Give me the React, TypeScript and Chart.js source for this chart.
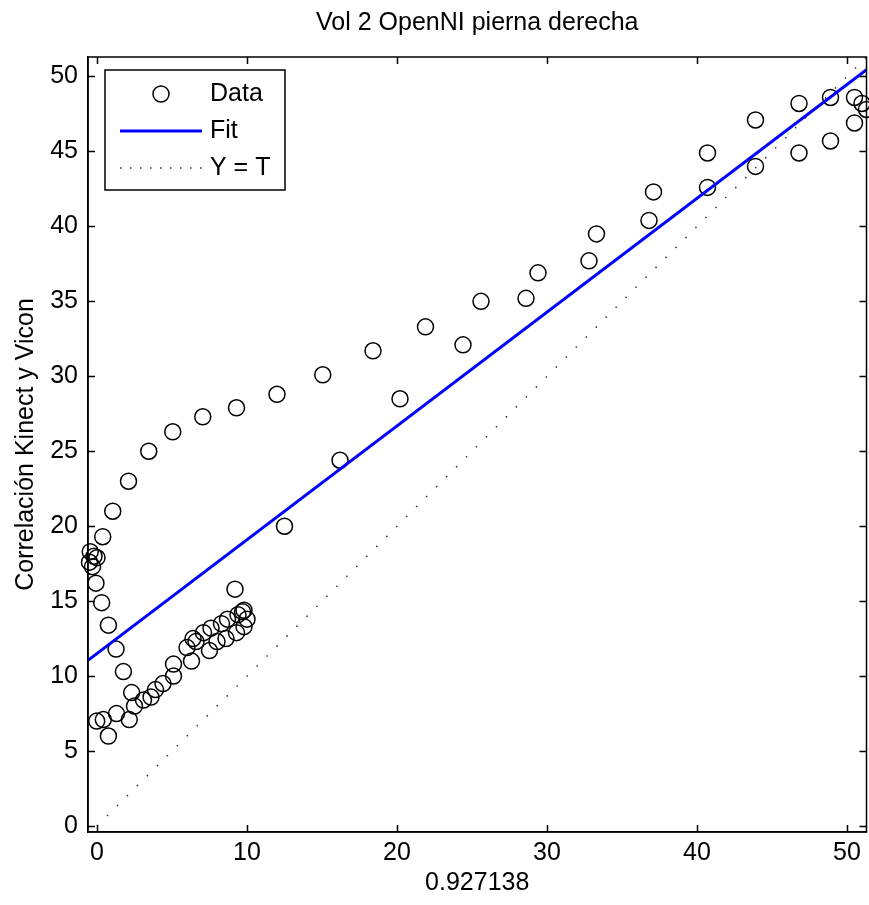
import React, { useEffect, useRef } from "react";
import { Chart, registerables } from "chart.js";

Chart.register(...registerables);

const TITLE = "Vol 2 OpenNI pierna derecha";
const X_LABEL = "0.927138";
const Y_LABEL = "Correlación Kinect y Vicon";
const X_TICKS = [0, 10, 20, 30, 40, 50];
const Y_TICKS = [0, 5, 10, 15, 20, 25, 30, 35, 40, 45, 50];
const X_MIN = -0.6;
const X_MAX = 51.3;
const Y_MIN = -0.4;
const Y_MAX = 51.3;

const SERIES_LABELS = ["Data", "Fit", "Y = T"];

const dataX = [
  -0.45, -0.2, -0.5, -0.3, 0.0,
  -0.07, 0.31, 0.76, 1.27, 1.76, 2.31,
  -0.02, 0.42, 0.76, 1.3, 2.15, 2.5, 3.1, 3.6, 3.9, 4.4, 5.1, 5.1, 6.0, 6.3, 6.4, 6.6,
  7.1, 7.5, 7.6, 8.0, 8.3, 8.6, 8.7, 9.2, 9.3, 9.4, 9.8, 9.8, 10.0, 9.7,
  0.38, 1.05, 2.1, 3.45, 5.05, 7.05, 9.3, 12.0, 15.05, 18.4, 21.9, 25.6, 29.4, 33.3,
  37.1, 40.7, 43.9, 46.8, 48.9, 50.5, 51.0,
  12.5, 16.2, 20.2, 24.4, 28.6, 32.8, 36.8, 40.7, 43.9, 46.8, 48.9, 50.5, 51.3,
];
const dataY = [
  18.3, 18.0, 17.6, 17.3, 17.9,
  16.2, 14.9, 13.4, 11.8, 10.3, 8.9,
  7.0, 7.1, 6.0, 7.5, 7.1, 8.0, 8.4, 8.6, 9.1, 9.5, 10.0, 10.8, 11.9, 11.0, 12.5, 12.3,
  12.9, 11.7, 13.2, 12.3, 13.5, 12.5, 13.8, 15.8, 12.9, 14.1, 13.3, 14.4, 13.8, 14.3,
  19.3, 21.0, 23.0, 25.0, 26.3, 27.3, 27.9, 28.8, 30.1, 31.7, 33.3, 35.0, 36.9, 39.5,
  42.3, 44.9, 47.1, 48.2, 48.6, 48.6, 48.2,
  20.0, 24.4, 28.5, 32.1, 35.2, 37.7, 40.4, 42.6, 44.0, 44.9, 45.7, 46.9, 47.8,
];

const fitX = [-0.6, 51.3];
const fitY = [11.05, 50.45];
const identX = [0, 51.3];
const identY = [0, 51.3];

const FONT = "'Liberation Sans', Arial, Helvetica, sans-serif";
const FS = 25;
const CW = 876;
const CH = 905;

const framePlugin = {
  id: "frame",
  afterDatasetsDraw(chart: any) {
    const { ctx, chartArea } = chart;
    const { left, right, top, bottom } = chartArea;
    const xs = chart.scales.x;
    const ys = chart.scales.y;
    const tl = 7;
    ctx.save();
    ctx.strokeStyle = "#000";
    ctx.lineWidth = 1.5;
    ctx.strokeRect(left, top, right - left, bottom - top);
    ctx.beginPath();
    for (const v of X_TICKS) {
      const px = Math.round(xs.getPixelForValue(v)) + 0.5;
      ctx.moveTo(px, bottom);
      ctx.lineTo(px, bottom - tl);
      ctx.moveTo(px, top);
      ctx.lineTo(px, top + tl);
    }
    for (const v of Y_TICKS) {
      const py = Math.round(ys.getPixelForValue(v)) + 0.5;
      ctx.moveTo(left, py);
      ctx.lineTo(left + tl, py);
      ctx.moveTo(right, py);
      ctx.lineTo(right - tl, py);
    }
    ctx.stroke();
    ctx.restore();
  },
  afterDraw(chart: any) {
    const { ctx, chartArea } = chart;
    ctx.save();
    ctx.fillStyle = "#000";
    ctx.font = `${FS}px ${FONT}`;
    ctx.textAlign = "center";
    ctx.textBaseline = "middle";
    ctx.fillText(TITLE, (chartArea.left + chartArea.right) / 2, 23);

    const bx = chartArea.left + 17;
    const by = chartArea.top + 13;
    const bw = 180;
    const bh = 120;
    ctx.fillStyle = "#fff";
    ctx.fillRect(bx, by, bw, bh);
    ctx.strokeStyle = "#000";
    ctx.lineWidth = 1.5;
    ctx.strokeRect(bx, by, bw, bh);

    const rows = [by + 24, by + 61, by + 98];
    const sx0 = bx + 15;
    const sx1 = bx + 97;
    const tx = bx + 105;

    ctx.beginPath();
    ctx.arc((sx0 + sx1) / 2, rows[0], 8, 0, Math.PI * 2);
    ctx.lineWidth = 1.5;
    ctx.strokeStyle = "#000";
    ctx.stroke();
    ctx.beginPath();
    ctx.moveTo(sx0, rows[1]);
    ctx.lineTo(sx1, rows[1]);
    ctx.lineWidth = 3;
    ctx.strokeStyle = "#0000ff";
    ctx.stroke();
    ctx.beginPath();
    ctx.setLineDash([1.5, 8.5]);
    ctx.moveTo(sx0, rows[2]);
    ctx.lineTo(sx1, rows[2]);
    ctx.lineWidth = 1.5;
    ctx.strokeStyle = "#333";
    ctx.stroke();
    ctx.setLineDash([]);

    ctx.fillStyle = "#000";
    ctx.font = `${FS}px ${FONT}`;
    ctx.textAlign = "left";
    ctx.textBaseline = "middle";
    SERIES_LABELS.forEach((t, i) => ctx.fillText(t, tx, rows[i]));
    ctx.restore();
  },
};

export default function App() {
  const ref = useRef<HTMLCanvasElement | null>(null);

  useEffect(() => {
    if (!ref.current) return;
    const chart = new Chart(ref.current, {
      type: "scatter",
      data: {
        datasets: [
          {
            label: SERIES_LABELS[0],
            data: dataX.map((x, i) => ({ x, y: dataY[i] })),
            pointStyle: "circle",
            pointRadius: 8,
            pointBorderWidth: 1.5,
            pointBorderColor: "#000",
            pointBackgroundColor: "rgba(0,0,0,0)",
            showLine: false,
            clip: false,
            order: 3,
          } as any,
          {
            label: SERIES_LABELS[1],
            data: fitX.map((x, i) => ({ x, y: fitY[i] })),
            showLine: true,
            borderColor: "#0000ff",
            borderWidth: 3,
            pointRadius: 0,
            order: 1,
          } as any,
          {
            label: SERIES_LABELS[2],
            data: identX.map((x, i) => ({ x, y: identY[i] })),
            showLine: true,
            borderColor: "#333",
            borderWidth: 1.5,
            borderDash: [1.5, 12.6],
            borderCapStyle: "butt",
            pointRadius: 0,
            order: 2,
          } as any,
        ],
      },
      options: {
        responsive: false,
        animation: false,
        layout: { padding: { top: 57, right: 0, bottom: 0, left: 0 } },
        plugins: {
          legend: { display: false },
          title: { display: false },
          tooltip: { enabled: false },
        },
        scales: {
          x: {
            type: "linear",
            min: X_MIN,
            max: X_MAX,
            afterBuildTicks: (s: any) => {
              s.ticks = X_TICKS.map((v) => ({ value: v }));
            },
            afterFit: (s: any) => {
              s.height = 73;
              s.paddingLeft = 0;
              s.paddingRight = 0;
            },
            grid: { display: false, drawTicks: false },
            border: { display: true, color: "#000", width: 1.5 },
            ticks: {
              color: "#000",
              font: { family: FONT, size: FS },
              padding: 6,
              maxRotation: 0,
            },
            title: {
              display: true,
              text: X_LABEL,
              color: "#000",
              font: { family: FONT, size: FS },
              padding: { top: 0, bottom: 7 },
            },
          },
          y: {
            type: "linear",
            min: Y_MIN,
            max: Y_MAX,
            afterBuildTicks: (s: any) => {
              s.ticks = Y_TICKS.map((v) => ({ value: v }));
            },
            afterFit: (s: any) => {
              s.width = 88;
              s.paddingTop = 0;
              s.paddingBottom = 0;
            },
            grid: { display: false, drawTicks: false },
            border: { display: true, color: "#000", width: 1.5 },
            ticks: {
              color: "#000",
              font: { family: FONT, size: FS },
              padding: 10,
            },
            title: {
              display: true,
              text: Y_LABEL,
              color: "#000",
              font: { family: FONT, size: FS },
              padding: { top: 11, bottom: 0 },
            },
          },
        },
      } as any,
      plugins: [framePlugin],
    });
    return () => chart.destroy();
  }, []);

  return (
    <div style={{ position: "absolute", left: 0, top: 0, width: 869, height: 905, overflow: "hidden", background: "#fff" }}>
      <canvas ref={ref} width={CW} height={CH} style={{ width: CW, height: CH, display: "block" }} />
    </div>
  );
}
